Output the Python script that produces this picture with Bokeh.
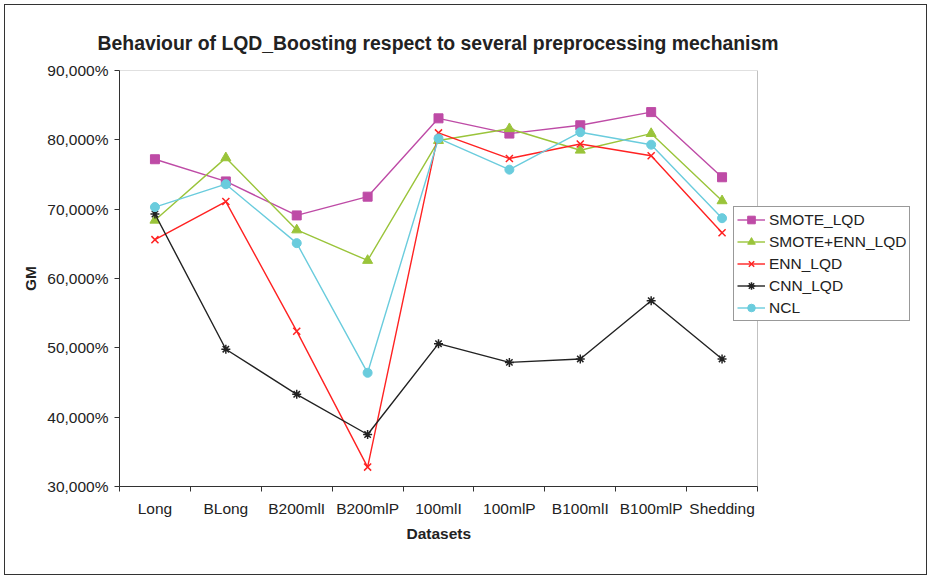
from bokeh.plotting import figure
from bokeh.models import FixedTicker, Legend, LegendItem, Range1d, BoxAnnotation, Title
from bokeh.embed import file_html
from bokeh.resources import INLINE

categories = ["Long", "BLong", "B200mlI", "B200mlP", "100mlI", "100mlP", "B100mlI", "B100mlP", "Shedding"]
smote_lqd = [77.2, 74.0, 69.1, 71.8, 83.1, 80.9, 82.1, 84.0, 74.6]
smote_enn_lqd = [68.4, 77.4, 67.0, 62.6, 79.9, 81.6, 78.5, 80.9, 71.2]
enn_lqd = [65.6, 71.1, 52.4, 32.8, 81.0, 77.3, 79.4, 77.7, 66.6]
cnn_lqd = [69.3, 49.8, 43.3, 37.5, 50.6, 47.9, 48.4, 56.8, 48.4]
ncl = [70.3, 73.6, 65.1, 46.4, 80.2, 75.7, 81.1, 79.3, 68.7]
y_ticks = [30, 40, 50, 60, 70, 80, 90]
y_tick_labels = ["30,000%", "40,000%", "50,000%", "60,000%", "70,000%", "80,000%", "90,000%"]

FONT = "Liberation Sans"
TXT = "#222222"
EDGE = "#333333"

n = len(categories)
xs = [i + 0.5 for i in range(n)]
# plotting box occupies 638 px of a 794 px frame; the rest hosts the legend
x_end = n * 794 / 638

p = figure(width=923, height=571, output_backend="svg", toolbar_location=None,
           x_range=Range1d(0, x_end), y_range=Range1d(30, 90),
           min_border_left=114, min_border_right=15, min_border_top=65, min_border_bottom=90,
           title="Behaviour of LQD_Boosting respect to several preprocessing mechanism")
p.styles = {"border": "1px solid #333333", "margin-left": "4px", "margin-top": "4px"}
p.background_fill_color = "white"
p.border_fill_color = "white"
p.outline_line_color = None
p.grid.visible = False

p.title.text_font = FONT
p.title.text_font_size = "19.4px"
p.title.text_font_style = "bold"
p.title.text_color = TXT
p.title.align = "left"
p.title.offset = -22
p.title.standoff = 34

# x axis
p.xaxis.ticker = FixedTicker(ticks=xs, minor_ticks=list(range(n + 1)))
p.xaxis.major_label_overrides = {x: c for x, c in zip(xs, categories)}
p.xaxis.bounds = (0, n)
p.xaxis.major_tick_out = 0
p.xaxis.major_tick_in = 0
p.xaxis.minor_tick_out = 5
p.xaxis.minor_tick_in = 0
p.xaxis.minor_tick_line_color = EDGE
p.xaxis.major_label_standoff = 8

# y axis
p.yaxis.ticker = FixedTicker(ticks=y_ticks, minor_ticks=[])
p.yaxis.major_label_overrides = {t: l for t, l in zip(y_ticks, y_tick_labels)}
p.yaxis.major_tick_out = 5
p.yaxis.major_tick_in = 0
p.yaxis.axis_label = "GM"
p.yaxis.major_label_standoff = 6
p.yaxis.axis_label_standoff = 5

for ax in (p.xaxis[0], p.yaxis[0]):
    ax.axis_line_color = EDGE
    ax.major_tick_line_color = EDGE
    ax.major_label_text_font = FONT
    ax.major_label_text_font_size = "15.5px"
    ax.major_label_text_color = TXT
    ax.axis_label_text_font = FONT
    ax.axis_label_text_font_size = "15.5px"
    ax.axis_label_text_font_style = "bold"
    ax.axis_label_text_color = TXT

# x-axis title, placed under the middle of the category region
xtitle = Title(text="Datasets", align="left", offset=287, standoff=6,
               text_font=FONT, text_font_size="15.5px", text_font_style="bold",
               text_color=TXT)
p.add_layout(xtitle, "below")

# plot-area outline (only around the category region)
p.add_layout(BoxAnnotation(left=0, right=n, bottom=30, top=90, fill_alpha=0,
                           line_color=EDGE, line_width=1))

series = [
    ("SMOTE_LQD", smote_lqd, "#BE4BA6", "square", 9),
    ("SMOTE+ENN_LQD", smote_enn_lqd, "#9AC43A", "triangle", 10),
    ("ENN_LQD", enn_lqd, "#FF2222", "x", 10),
    ("CNN_LQD", cnn_lqd, "#222222", "asterisk", 9),
    ("NCL", ncl, "#6ACCDD", "circle", 9),
]

items = []
for name, vals, col, mk, sz in series:
    r1 = p.line(xs, vals, line_color=col, line_width=1.4)
    if mk in ("x", "asterisk"):
        r2 = p.scatter(xs, vals, marker=mk, size=sz, line_color=col, line_width=1.5)
    else:
        r2 = p.scatter(xs, vals, marker=mk, size=sz, fill_color=col, line_color=col)
    items.append(LegendItem(label=name, renderers=[r1, r2]))

legend = Legend(items=items, location=(614, 165))
legend.label_text_font = FONT
legend.label_text_font_size = "15.5px"
legend.label_text_color = TXT
legend.glyph_width = 28
legend.glyph_height = 19
legend.label_height = 19
legend.label_standoff = 4
legend.spacing = 3
legend.padding = 3
legend.margin = 0
legend.border_line_color = EDGE
legend.border_line_width = 1
legend.background_fill_color = "white"
legend.background_fill_alpha = 1
p.add_layout(legend, "center")

open("out.html", "w").write(file_html(p, INLINE))
